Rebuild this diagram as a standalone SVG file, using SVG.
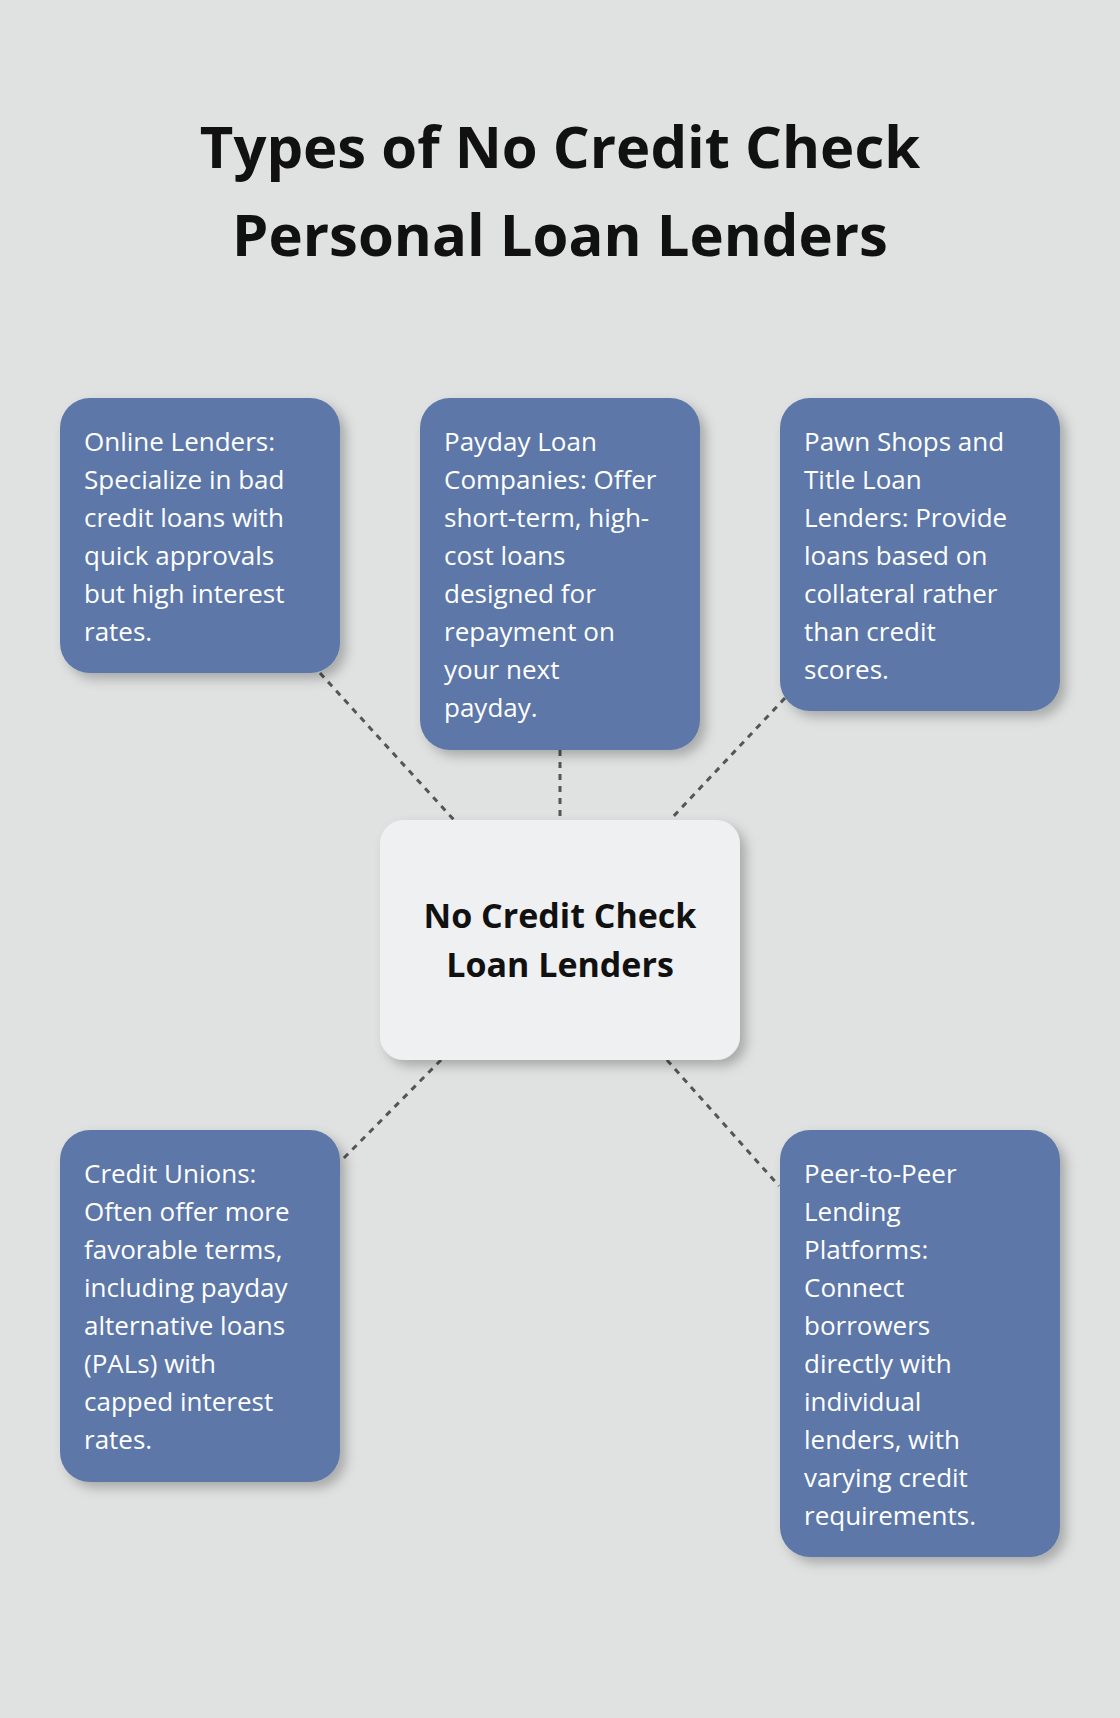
<svg xmlns="http://www.w3.org/2000/svg" width="1120" height="1718" viewBox="0 0 1120 1718">
<defs>
<filter id="sh" x="-20%" y="-20%" width="150%" height="150%"><feDropShadow dx="6" dy="6" stdDeviation="6" flood-color="#000" flood-opacity="0.25"/></filter>
<style>
.b{fill:#5b77a8;filter:url(#sh)}
.t{font-family:"Open Sans","Noto Sans",sans-serif;font-size:26px;fill:#fff}
.c{stroke:#555;stroke-width:3;stroke-dasharray:6 6;fill:none}
</style>
</defs>
<rect width="1120" height="1718" fill="#e0e2e1"/>
<g font-family="Open Sans, Noto Sans, sans-serif" font-weight="bold" font-size="58" text-anchor="middle" fill="#111">
<text x="560" y="168">Types of No Credit Check</text>
<text x="560" y="256">Personal Loan Lenders</text>
</g>
<g id="connectors">
<line class="c" x1="320" y1="673" x2="454" y2="820"/>
<line class="c" x1="560" y1="750" x2="560" y2="820"/>
<line class="c" x1="785" y1="698" x2="670" y2="820"/>
<line class="c" x1="441" y1="1060" x2="340" y2="1162"/>
<line class="c" x1="667" y1="1060" x2="779" y2="1186"/>
</g>
<g id="online"><rect class="b" x="60" y="398" width="280" height="275" rx="30"/>
<text class="t" x="84" y="451"><tspan x="84">Online Lenders:</tspan><tspan x="84" dy="38">Specialize in bad</tspan><tspan x="84" dy="38">credit loans with</tspan><tspan x="84" dy="38">quick approvals</tspan><tspan x="84" dy="38">but high interest</tspan><tspan x="84" dy="38">rates.</tspan></text></g>
<g id="payday"><rect class="b" x="420" y="398" width="280" height="352" rx="30"/>
<text class="t" x="444" y="451"><tspan x="444">Payday Loan</tspan><tspan x="444" dy="38">Companies: Offer</tspan><tspan x="444" dy="38">short-term, high-</tspan><tspan x="444" dy="38">cost loans</tspan><tspan x="444" dy="38">designed for</tspan><tspan x="444" dy="38">repayment on</tspan><tspan x="444" dy="38">your next</tspan><tspan x="444" dy="38">payday.</tspan></text></g>
<g id="pawn"><rect class="b" x="780" y="398" width="280" height="313" rx="30"/>
<text class="t" x="804" y="451"><tspan x="804">Pawn Shops and</tspan><tspan x="804" dy="38">Title Loan</tspan><tspan x="804" dy="38">Lenders: Provide</tspan><tspan x="804" dy="38">loans based on</tspan><tspan x="804" dy="38">collateral rather</tspan><tspan x="804" dy="38">than credit</tspan><tspan x="804" dy="38">scores.</tspan></text></g>
<g id="center"><rect x="380" y="820" width="360" height="240" rx="24" fill="#eff0f2" filter="url(#sh)"/>
<text font-family="Open Sans, Noto Sans, sans-serif" font-weight="bold" font-size="34" text-anchor="middle" fill="#111"><tspan x="560" y="928">No Credit Check</tspan><tspan x="560" y="977">Loan Lenders</tspan></text></g>
<g id="credit"><rect class="b" x="60" y="1130" width="280" height="352" rx="30"/>
<text class="t" x="84" y="1183"><tspan x="84">Credit Unions:</tspan><tspan x="84" dy="38">Often offer more</tspan><tspan x="84" dy="38">favorable terms,</tspan><tspan x="84" dy="38">including payday</tspan><tspan x="84" dy="38">alternative loans</tspan><tspan x="84" dy="38">(PALs) with</tspan><tspan x="84" dy="38">capped interest</tspan><tspan x="84" dy="38">rates.</tspan></text></g>
<g id="p2p"><rect class="b" x="780" y="1130" width="280" height="427" rx="30"/>
<text class="t" x="804" y="1183"><tspan x="804">Peer-to-Peer</tspan><tspan x="804" dy="38">Lending</tspan><tspan x="804" dy="38">Platforms:</tspan><tspan x="804" dy="38">Connect</tspan><tspan x="804" dy="38">borrowers</tspan><tspan x="804" dy="38">directly with</tspan><tspan x="804" dy="38">individual</tspan><tspan x="804" dy="38">lenders, with</tspan><tspan x="804" dy="38">varying credit</tspan><tspan x="804" dy="38">requirements.</tspan></text></g>
</svg>
